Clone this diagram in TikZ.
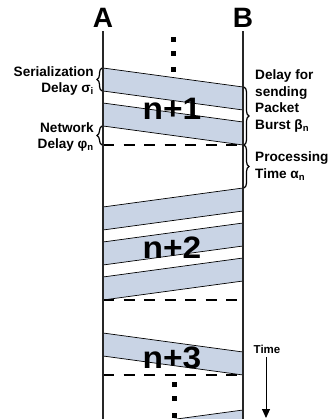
\documentclass[tikz,border=0pt]{standalone}
\usepackage{fontspec}
\setmainfont{Liberation Sans}
\usepackage{tikz}
\usetikzlibrary{decorations.pathreplacing,arrows.meta}
\definecolor{pktblue}{RGB}{201,212,229}

\tikzset{
    packet/.style={fill=pktblue, draw=black, line width=0.7pt},
    burstend/.style={draw=black, line width=1.3pt, dash pattern=on 11pt off 9.5pt},
    timeline/.style={draw=black!85, line width=1.1pt},
    delaybrace/.style={decorate, decoration={brace, amplitude=5pt}, line width=1.2pt},
    bracelabel/.style={font=\fontsize{13.6}{16.5}\selectfont\bfseries, inner sep=1pt},
    burstlabel/.style={font=\fontsize{31}{32}\selectfont\bfseries, inner sep=0pt},
    hostlabel/.style={font=\fontsize{28}{28}\selectfont\bfseries}
}

\begin{document}
\begin{tikzpicture}[x=1pt, y=-1pt]
    \useasboundingbox (0,0) rectangle (331,419);
    \clip (0,0) rectangle (331,419);

    % Burst n+1 (A to B)
    \filldraw[packet] (103,68) -- (243,87) -- (243,110) -- (103,91) -- cycle;
    \filldraw[packet] (103,103) -- (243,122) -- (243,145) -- (103,126) -- cycle;
    \draw[burstend] (103,145) -- (243,145);

    % Burst n+2 (B to A)
    \filldraw[packet] (243,188) -- (103,207) -- (103,230) -- (243,211) -- cycle;
    \filldraw[packet] (243,223) -- (103,242) -- (103,265) -- (243,246) -- cycle;
    \filldraw[packet] (243,258) -- (103,277) -- (103,300) -- (243,281) -- cycle;
    \draw[burstend] (103,300) -- (243,300);

    % Burst n+3 (A to B)
    \filldraw[packet] (103,333) -- (243,352) -- (243,375) -- (103,356) -- cycle;
    \draw[burstend] (103,375) -- (243,375);

    % next burst, cut off
    \filldraw[packet] (243,410) -- (103,429) -- (103,452) -- (243,433) -- cycle;

    % Hosts and time lines
    \node[hostlabel] (A) at (103,18) {A};
    \node[hostlabel] (B) at (243,18) {B};
    \coordinate (endA) at (103,425);
    \coordinate (endB) at (243,425);
    \draw[timeline] (A.south) -- (endA);
    \draw[timeline] (B.south) -- (endB);

    % Braces
    \draw[delaybrace] (102,91) -- (102,68);
    \draw[delaybrace] (102,145) -- (102,126);
    \draw[delaybrace] (244,87) -- (244,145);
    \draw[delaybrace] (244,145) -- (244,188);

    \node[bracelabel, anchor=east, align=right] (serlbl) at (95,81) {Serialization\\Delay σ\textsubscript{i}};
    \node[bracelabel, anchor=east, align=right] (netlbl) at (95,137) {Network\\Delay φ\textsubscript{n}};
    \node[bracelabel, anchor=west, align=left] (sendlbl) at (254,101) {Delay for\\sending\\Packet\\Burst β\textsubscript{n}};
    \node[bracelabel, anchor=west, align=left] (proclbl) at (254,166) {Processing\\Time α\textsubscript{n}};

    % Burst names
    \node[burstlabel] (burst1) at (172,109) {\scalebox{1.08}[1]{n+1}};
    \node[burstlabel] (burst2) at (172,248) {\scalebox{1.08}[1]{n+2}};
    \node[burstlabel] (burst3) at (172,358) {\scalebox{1.08}[1]{n+3}};

    % Dots
    \foreach \y in {40,54,70} \fill (171,\y-2.5) rectangle ++(5,5);
    \foreach \y in {384,398,415} \fill (171.5,\y-2.5) rectangle ++(5,5);

    % Time arrow
    \node[font=\fontsize{11.5}{13}\selectfont\bfseries] (timelbl) at (267,349) {Time};
    \coordinate (timeend) at (266,418);
    \draw[line width=1pt, -{Triangle[length=9pt, width=8pt]}] (timelbl.south -| timeend) -- (timeend);
\end{tikzpicture}
\end{document}
